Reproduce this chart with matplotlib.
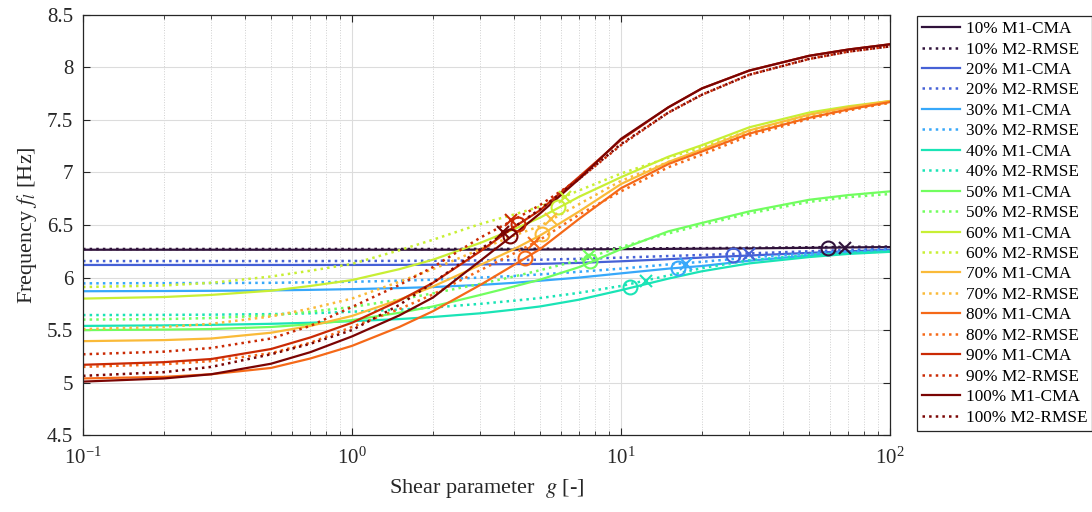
import numpy as np
import matplotlib
matplotlib.use("Agg")
import matplotlib.pyplot as plt
from matplotlib.ticker import LogLocator, NullFormatter

plt.rcParams['font.family'] = ['Liberation Serif', 'DejaVu Serif']
plt.rcParams['mathtext.fontset'] = 'stix'

# shear parameter sample points
g = [0.1, 0.2, 0.3, 0.5, 0.7, 1, 1.5, 2, 3, 4, 5, 7, 10, 15, 20, 30, 50, 70, 100]

pct = ['10%', '20%', '30%', '40%', '50%', '60%', '70%', '80%', '90%', '100%']

# M1-CMA curves
m1_10 = [6.265, 6.265, 6.265, 6.265, 6.265, 6.265, 6.265, 6.265, 6.266, 6.266, 6.267, 6.268, 6.27, 6.273, 6.275, 6.278, 6.283, 6.287, 6.29]
m1_20 = [6.12, 6.12, 6.12, 6.12, 6.12, 6.12, 6.121, 6.122, 6.125, 6.128, 6.13, 6.14, 6.155, 6.175, 6.19, 6.21, 6.235, 6.25, 6.265]
m1_30 = [5.87, 5.872, 5.874, 5.878, 5.883, 5.89, 5.90, 5.91, 5.93, 5.95, 5.97, 6.0, 6.04, 6.085, 6.11, 6.16, 6.21, 6.235, 6.255]
m1_40 = [5.54, 5.545, 5.55, 5.56, 5.57, 5.585, 5.605, 5.625, 5.66, 5.695, 5.725, 5.79, 5.88, 5.99, 6.06, 6.135, 6.195, 6.225, 6.245]
m1_50 = [5.50, 5.505, 5.51, 5.53, 5.555, 5.595, 5.665, 5.725, 5.835, 5.915, 5.98, 6.10, 6.27, 6.44, 6.52, 6.63, 6.74, 6.785, 6.82]
m1_60 = [5.80, 5.815, 5.835, 5.875, 5.92, 5.976, 6.08, 6.17, 6.33, 6.46, 6.57, 6.77, 6.955, 7.15, 7.26, 7.43, 7.57, 7.63, 7.68]
m1_70 = [5.395, 5.405, 5.42, 5.475, 5.54, 5.635, 5.79, 5.915, 6.12, 6.27, 6.40, 6.63, 6.89, 7.10, 7.22, 7.40, 7.55, 7.62, 7.68]
m1_80 = [5.04, 5.055, 5.08, 5.14, 5.23, 5.35, 5.53, 5.68, 5.93, 6.12, 6.27, 6.56, 6.85, 7.08, 7.20, 7.37, 7.52, 7.60, 7.67]
m1_90 = [5.17, 5.195, 5.225, 5.32, 5.43, 5.57, 5.78, 5.95, 6.25, 6.48, 6.64, 6.96, 7.31, 7.62, 7.80, 7.97, 8.11, 8.17, 8.22]
m1_100 = [5.01, 5.04, 5.08, 5.18, 5.29, 5.44, 5.64, 5.81, 6.16, 6.41, 6.61, 6.94, 7.32, 7.62, 7.80, 7.97, 8.11, 8.17, 8.22]

# M2-RMSE curves
m2_10 = [6.272, 6.272, 6.272, 6.272, 6.272, 6.272, 6.272, 6.272, 6.273, 6.273, 6.274, 6.275, 6.277, 6.279, 6.28, 6.283, 6.288, 6.292, 6.295]
m2_20 = [6.157, 6.157, 6.157, 6.157, 6.157, 6.158, 6.159, 6.16, 6.163, 6.166, 6.17, 6.178, 6.19, 6.205, 6.215, 6.23, 6.25, 6.263, 6.275]
m2_30 = [5.945, 5.947, 5.948, 5.95, 5.955, 5.96, 5.97, 5.98, 6.0, 6.015, 6.03, 6.055, 6.085, 6.125, 6.15, 6.19, 6.23, 6.25, 6.265]
m2_40 = [5.643, 5.645, 5.647, 5.652, 5.66, 5.675, 5.695, 5.715, 5.75, 5.78, 5.805, 5.855, 5.92, 6.02, 6.09, 6.165, 6.215, 6.235, 6.25]
m2_50 = [5.60, 5.605, 5.615, 5.64, 5.675, 5.72, 5.79, 5.85, 5.94, 6.01, 6.07, 6.165, 6.29, 6.42, 6.50, 6.61, 6.72, 6.765, 6.795]
m2_60 = [5.91, 5.925, 5.95, 6.01, 6.065, 6.13, 6.26, 6.36, 6.51, 6.60, 6.675, 6.83, 6.99, 7.14, 7.24, 7.40, 7.54, 7.61, 7.665]
m2_70 = [5.51, 5.53, 5.56, 5.63, 5.705, 5.80, 5.96, 6.08, 6.27, 6.40, 6.49, 6.70, 6.92, 7.10, 7.20, 7.38, 7.53, 7.60, 7.665]
m2_80 = [5.15, 5.175, 5.205, 5.28, 5.38, 5.53, 5.70, 5.84, 6.07, 6.23, 6.36, 6.60, 6.82, 7.05, 7.17, 7.35, 7.51, 7.59, 7.665]
m2_90 = [5.27, 5.295, 5.33, 5.42, 5.54, 5.72, 5.93, 6.10, 6.38, 6.55, 6.69, 6.94, 7.26, 7.57, 7.74, 7.93, 8.08, 8.15, 8.20]
m2_100 = [5.065, 5.10, 5.15, 5.27, 5.37, 5.50, 5.74, 5.95, 6.27, 6.48, 6.65, 6.94, 7.27, 7.57, 7.74, 7.93, 8.08, 8.15, 8.20]

m1 = [m1_10, m1_20, m1_30, m1_40, m1_50, m1_60, m1_70, m1_80, m1_90, m1_100]
m2 = [m2_10, m2_20, m2_30, m2_40, m2_50, m2_60, m2_70, m2_80, m2_90, m2_100]

# identified points (o = M1, x = M2)
g_m1_pt = [59, 26, 16.3, 10.8, 7.67, 5.82, 5.09, 4.41, 4.13, 3.87]
f_m1_pt = [6.28, 6.21, 6.087, 5.91, 6.157, 6.67, 6.41, 6.19, 6.51, 6.395]
g_m2_pt = [68, 30, 17.4, 12.4, 7.62, 6.2, 5.5, 4.73, 3.9, 3.65]
f_m2_pt = [6.285, 6.225, 6.13, 5.97, 6.205, 6.77, 6.56, 6.33, 6.55, 6.43]

cols = plt.cm.turbo(np.linspace(0, 1, 10))

fig = plt.figure(figsize=(10.92, 5.12), dpi=100)
ax = fig.add_axes([0.076, 0.150, 0.739, 0.821])

for i in range(10):
    ax.plot(g, m1[i], '-', color=cols[i], lw=1.6, label=pct[i] + ' M1-CMA')
    ax.plot(g, m2[i], ':', color=cols[i], lw=1.8, label=pct[i] + ' M2-RMSE')
for i in range(10):
    ax.plot(g_m1_pt[i], f_m1_pt[i], 'o', mfc='none', mec=cols[i], ms=10, mew=1.5)
    ax.plot(g_m2_pt[i], f_m2_pt[i], 'x', color=cols[i], ms=8, mew=1.5)

ax.set_xscale('log')
ax.set_xlim(0.1, 100)
ax.set_ylim(4.5, 8.5)
ax.set_yticks(np.arange(4.5, 8.51, 0.5))
ax.set_yticklabels(['4.5', '5', '5.5', '6', '6.5', '7', '7.5', '8', '8.5'])
ax.xaxis.set_minor_locator(LogLocator(base=10, subs=np.arange(2, 10), numticks=20))
ax.xaxis.set_minor_formatter(NullFormatter())

ax.grid(True, which='major', color='#dcdcdc', lw=0.8)
ax.grid(True, which='minor', axis='x', color='#d0d0d0', lw=0.7, ls=':')
ax.set_axisbelow(True)
ax.tick_params(which='both', direction='in', top=True, right=True, labelsize=15, colors='#262626')
ax.tick_params(axis='y', which='major', pad=7)
ax.tick_params(axis='x', which='major', pad=9)
ax.tick_params(which='major', length=5, width=0.8)
ax.tick_params(which='minor', length=3, width=0.6)
for s in ax.spines.values():
    s.set_color('#262626')
    s.set_linewidth(0.9)

ax.set_xlabel(r'Shear parameter  $g$ [-]', fontsize=16, color='#262626', labelpad=6)
ax.set_ylabel(r'Frequency $f_l$ [Hz]', fontsize=16, color='#262626', labelpad=6)

leg = fig.legend(loc='upper left', bbox_to_anchor=(0.840, 0.969), fontsize=12.4,
                 fancybox=False, edgecolor='#262626', framealpha=1,
                 handlelength=2.2, handletextpad=0.3, labelspacing=0.255,
                 borderpad=0.3, borderaxespad=0)
leg.get_frame().set_linewidth(0.9)

fig.savefig('out.png', dpi=100)
